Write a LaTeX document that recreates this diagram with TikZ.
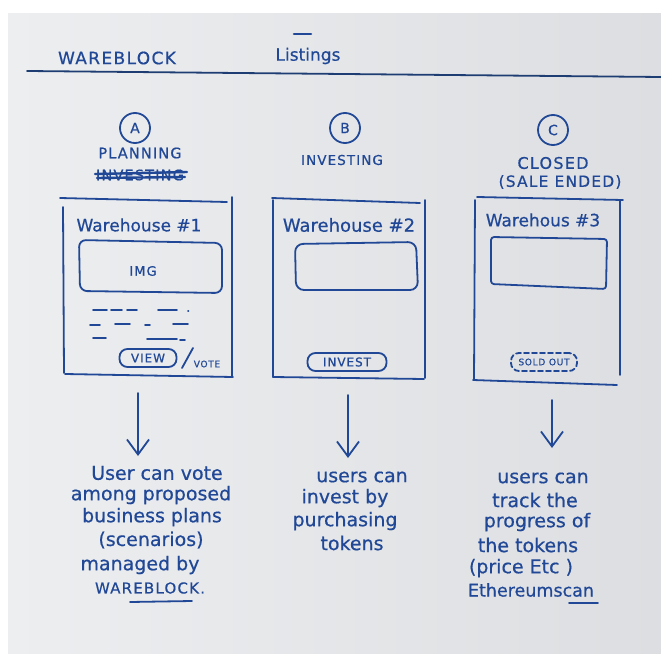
\documentclass[tikz,border=0pt]{standalone}
\usepackage{fontspec}
\setmainfont[FakeBold=0.6]{DejaVu Sans}
\newfontfamily\capsfont[LetterSpace=8,FakeBold=0.6]{DejaVu Sans}
\usetikzlibrary{arrows.meta}
\definecolor{ink}{RGB}{32,72,150}
\definecolor{inkdark}{RGB}{30,62,115}
\definecolor{paperL}{RGB}{237,238,240}
\definecolor{paperR}{RGB}{221,222,225}

\begin{document}
\begin{tikzpicture}[x=1pt,y=-1pt,
  pen/.style={draw=ink, line width=1.8pt, line cap=round, line join=round},
  hand/.style={text=ink, inner sep=0pt, font=\fontsize{19}{19}\selectfont},
  caps/.style={text=ink, inner sep=0pt, font=\capsfont\fontsize{#1}{#1}\selectfont},
  badge/.style={pen, circle, minimum size=30pt, inner sep=0pt, text=ink,
    font=\capsfont\fontsize{14}{14}\selectfont},
  pill/.style={pen, rounded corners=8pt, minimum width=#1, minimum height=18pt,
    inner sep=0pt},
  downarrow/.style={pen, -{Straight Barb[length=15pt,width=22pt]}},
  dashrow/.style={pen, line width=1.6pt},
]
\useasboundingbox (0,0) rectangle (661,655);

% sheet of paper
\fill[white] (0,0) rectangle (661,655);
\shade[left color=paperL, right color=paperR] (8,14) rectangle (661,653);

% header
\node[caps=17] (brand) at (117,58) {WAREBLOCK};
\node[hand, font=\fontsize{17}{17}\selectfont] (title) at (308,56) {Listings};
\draw[pen, line width=2.6pt] (294,34) -- (311,34);
\draw[pen, draw=inkdark, line width=1.8pt] (27,71) -- (661,77);

% ---------------- column A : planning ----------------
\node[badge] (badgeA) at (135,128) {A};
\node[caps=14.5] (stageA) at (140,153) {PLANNING};
\node[caps=14.5] (oldA) at (140,175) {INVESTING};
\draw[pen, line width=2.4pt] (95,174) -- (187,172);
\draw[pen, line width=2.4pt] (97,178) -- (185,177);

\draw[pen] (60,198) -- (227,202);
\draw[pen] (63,207) -- (64,373);
\draw[pen] (232,197) -- (232,377);
\draw[pen] (65,374) -- (233,377);
\node[hand, font=\fontsize{17}{17}\selectfont] (titleA) at (139,225) {Warehouse \#1};
\draw[pen, rounded corners=7pt] (79,240) -- (222,243) -- (222,293) -- (80,291) -- cycle;
\node[caps=13] (imgA) at (143,271) {IMG};
\draw[dashrow] (93,310)--(107,310) (111,310)--(122,310) (127,310)--(137,310)
  (158,310)--(177,310) (188,311)--(188.5,311);
\draw[dashrow] (90,325)--(100,325) (115,324)--(130,324) (145,325)--(150,325)
  (173,324)--(188,324);
\draw[dashrow] (93,338)--(106,338) (147,339)--(177,339) (180,340)--(185,340);
\node[pill=57pt, caps=12] (viewA) at (148,358) {VIEW};
\draw[pen] (193,348) -- (182,368);
\node[caps=9] (voteA) at (207,364) {VOTE};

\coordinate (arrA1) at (138,393);
\coordinate (arrA2) at (138,456);
\draw[downarrow] (arrA1) -- (arrA2);

\node[hand] (a1) at (157,473) {User can vote};
\node[hand] (a2) at (151,495) {among proposed};
\node[hand] (a3) at (152,517) {business plans};
\node[hand] (a4) at (151,540) {(scenarios)};
\node[hand] (a5) at (140,565) {managed by};
\node[caps=15] (a6) at (150,588) {WAREBLOCK.};
\draw[pen] (130,602) -- (192,601);

% ---------------- column B : investing ----------------
\node[badge] (badgeB) at (345,128) {B};
\node[caps=13.5] (stageB) at (342,160) {INVESTING};

\draw[pen] (272,198) -- (420,203);
\draw[pen] (273,200) -- (273,377);
\draw[pen] (425,200) -- (425,378);
\draw[pen] (273,377) -- (424,379);
\node[hand, font=\fontsize{18}{18}\selectfont] (titleB) at (349,225) {Warehouse \#2};
\draw[pen, rounded corners=8pt] (295,244) -- (416,242) -- (418,290) -- (296,290) -- cycle;
\node[pill=79pt, caps=12] (investB) at (347,362) {INVEST};

\coordinate (arrB1) at (348,395);
\coordinate (arrB2) at (348,458);
\draw[downarrow] (arrB1) -- (arrB2);

\node[hand] (b1) at (362,477) {users can};
\node[hand] (b2) at (345,498) {invest by};
\node[hand] (b3) at (345,521) {purchasing};
\node[hand] (b4) at (352,543) {tokens};

% ---------------- column C : closed ----------------
\node[badge] (badgeC) at (553,130) {C};
\node[caps=16] (stageC) at (553,163) {CLOSED};
\node[caps=15.4] (noteC) at (560,182) {(SALE ENDED)};

\draw[pen] (477,197) -- (623,200);
\draw[pen] (475,200) -- (474,380);
\draw[pen] (620,200) -- (620,375);
\draw[pen] (473,380) -- (617,385);
\node[hand, font=\fontsize{17}{17}\selectfont] (titleC) at (543,220) {Warehous \#3};
\draw[pen, rounded corners=3pt] (491,237) -- (607,239) -- (606,289) -- (491,284) -- cycle;
\node[pill=66pt, dashed, dash pattern=on 5pt off 3pt, caps=9] (soldC) at (544,362) {SOLD OUT};

\coordinate (arrC1) at (552,400);
\coordinate (arrC2) at (552,448);
\draw[downarrow] (arrC1) -- (arrC2);

\node[hand] (c1) at (543,478) {users can};
\node[hand] (c2) at (535,500) {track the};
\node[hand] (c3) at (537,522) {progress of};
\node[hand] (c4) at (528,545) {the tokens};
\node[hand] (c5) at (521,568) {(price Etc )};
\node[hand, font=\fontsize{17.5}{17.5}\selectfont] (c6) at (531,590) {Ethereumscan};
\draw[pen] (569,603) -- (598,603);
\end{tikzpicture}
\end{document}
